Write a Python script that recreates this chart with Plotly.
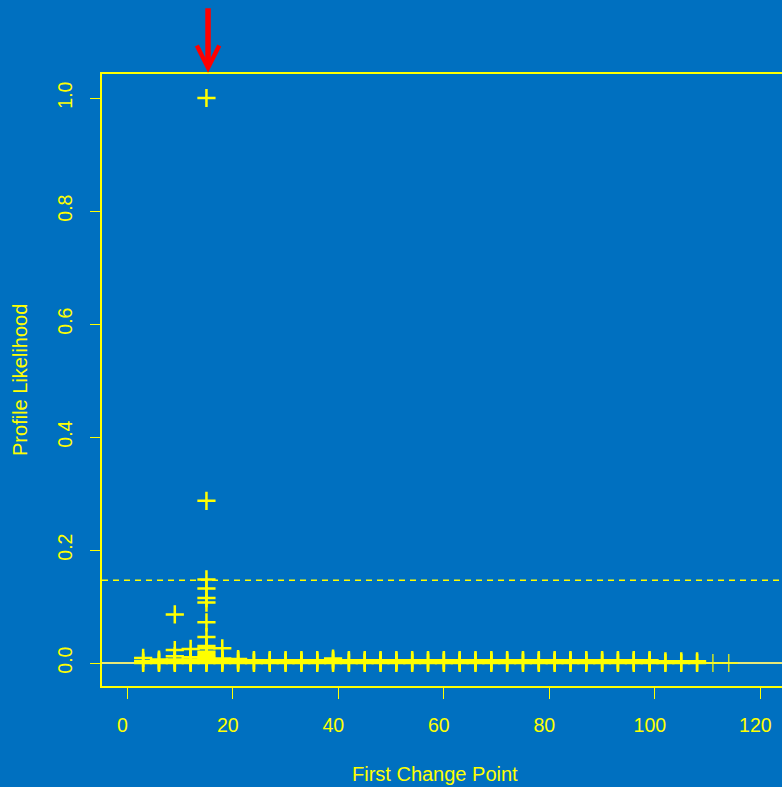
import plotly.graph_objects as go

# ---- data ----
change_points = [3, 6, 9, 12, 15, 18, 21, 24, 27, 30, 33, 36, 39, 42, 45, 48, 51, 54, 57,
                 60, 63, 66, 69, 72, 75, 78, 81, 84, 87, 90, 93, 96, 99, 102, 105, 108, 111, 114]

likelihood_values = [
    [0.0, 0.003, 0.009],                                   # 3
    [0.0, 0.002, 0.004, 0.006],                            # 6
    [0.0, 0.002, 0.004, 0.006, 0.012, 0.023, 0.086],       # 9
    [0.0, 0.002, 0.004, 0.006, 0.010, 0.025],              # 12
    [0.0, 0.003, 0.006, 0.009, 0.012, 0.016, 0.020, 0.026, 0.030,
     0.046, 0.072, 0.107, 0.115, 0.132, 0.148, 0.287, 1.0],  # 15
    [0.0, 0.003, 0.005, 0.008, 0.026],                     # 18
    [0.0, 0.003, 0.005, 0.007],                            # 21
    [0.0, 0.003, 0.005],                                   # 24
    [0.0, 0.003, 0.005],                                   # 27
    [0.0, 0.003, 0.005],                                   # 30
    [0.0, 0.003, 0.005],                                   # 33
    [0.0, 0.003, 0.005],                                   # 36
    [0.0, 0.003, 0.005, 0.008],                            # 39
    [0.0, 0.003, 0.005],                                   # 42
    [0.0, 0.003, 0.005],                                   # 45
    [0.0, 0.003, 0.005],                                   # 48
    [0.0, 0.003, 0.005],                                   # 51
    [0.0, 0.003, 0.005],                                   # 54
    [0.0, 0.003, 0.005],                                   # 57
    [0.0, 0.003, 0.005],                                   # 60
    [0.0, 0.003, 0.005],                                   # 63
    [0.0, 0.003, 0.005],                                   # 66
    [0.0, 0.003, 0.005],                                   # 69
    [0.0, 0.003, 0.005],                                   # 72
    [0.0, 0.003, 0.005],                                   # 75
    [0.0, 0.003, 0.005],                                   # 78
    [0.0, 0.003, 0.005],                                   # 81
    [0.0, 0.003, 0.005],                                   # 84
    [0.0, 0.003, 0.005],                                   # 87
    [0.0, 0.003, 0.005],                                   # 90
    [0.0, 0.003, 0.005],                                   # 93
    [0.0, 0.003, 0.005],                                   # 96
    [0.0, 0.003, 0.005],                                   # 99
    [0.0, 0.003],                                          # 102
    [0.0, 0.003],                                          # 105
    [0.0, 0.003],                                          # 108
    [0.0],                                                 # 111
    [0.0],                                                 # 114
]

x_tick_values = [0, 20, 40, 60, 80, 100, 120]
y_tick_values = [0.0, 0.2, 0.4, 0.6, 0.8, 1.0]
y_tick_labels = ["0.0", "0.2", "0.4", "0.6", "0.8", "1.0"]
x_title = "First Change Point"
y_title = "Profile Likelihood"
threshold_level = 0.1465
arrow_target_x = 15.3

# ---- styling ----
BG = "#0070C0"
YEL = "#FFFF00"
FONT = "Liberation Sans, Arial, Helvetica, sans-serif"

dense_x, dense_y, sparse_x, sparse_y = [], [], [], []
for cp, vals in zip(change_points, likelihood_values):
    for v in vals:
        if len(vals) > 1:
            dense_x.append(cp); dense_y.append(v)
        else:
            sparse_x.append(cp); sparse_y.append(v)

fig = go.Figure()
fig.add_trace(go.Scatter(
    x=dense_x, y=dense_y, mode="markers", hoverinfo="skip",
    marker=dict(symbol="cross-thin", size=13, color=YEL,
                line=dict(color=YEL, width=2.5)),
))
fig.add_trace(go.Scatter(
    x=sparse_x, y=sparse_y, mode="markers", hoverinfo="skip",
    marker=dict(symbol="cross-thin", size=13, color=YEL,
                line=dict(color="rgba(255,255,0,0.8)", width=1.5)),
))

fig.add_shape(type="line", xref="paper", x0=0, x1=1, yref="y",
              y0=threshold_level, y1=threshold_level,
              line=dict(color=YEL, width=1.5, dash="6px,5px"))

fig.add_annotation(x=arrow_target_x, xref="x", y=1.002, yref="paper",
                   ax=0, ay=-66, text="", showarrow=True,
                   arrowhead=5, arrowsize=0.8, arrowwidth=5.5,
                   arrowcolor="#FF0000", standoff=0)

# axis titles
fig.add_annotation(text=x_title, xref="paper", yref="paper",
                   x=0.4904, y=-0.1438, xanchor="center", yanchor="middle",
                   showarrow=False, font=dict(family=FONT, size=20, color=YEL))
fig.add_annotation(text=y_title, xref="paper", yref="paper",
                   x=-0.1206, y=0.5, xanchor="center", yanchor="middle",
                   textangle=-90, showarrow=False,
                   font=dict(family=FONT, size=20, color=YEL))

fig.update_layout(
    width=782, height=787,
    margin=dict(l=102, r=0, t=74, b=101),
    paper_bgcolor=BG, plot_bgcolor=BG,
    showlegend=False,
    font=dict(family=FONT, color=YEL, size=19),
    xaxis=dict(
        range=[-4.8, 124.1], tickvals=x_tick_values,
        ticks="outside", ticklen=11, tickwidth=1.2, tickcolor=YEL,
        showline=True, linecolor=YEL, linewidth=1.8, mirror=True,
        showgrid=False, zeroline=False,
        tickfont=dict(family=FONT, size=19.5, color=YEL),
        ticklabelstandoff=10, ticklabelshift=-5,
    ),
    yaxis=dict(
        range=[-0.0407, 1.0425], tickvals=y_tick_values, ticktext=y_tick_labels,
        tickangle=-90,
        ticks="outside", ticklen=10, tickwidth=1.2, tickcolor=YEL,
        showline=True, linecolor=YEL, linewidth=1.8, mirror=False,
        showgrid=False,
        zeroline=True, zerolinecolor="#E8E878", zerolinewidth=1.5,
        tickfont=dict(family=FONT, size=19.5, color=YEL),
        ticklabelstandoff=10,
    ),
)

fig.write_html("out.html", config={"displayModeBar": False})
